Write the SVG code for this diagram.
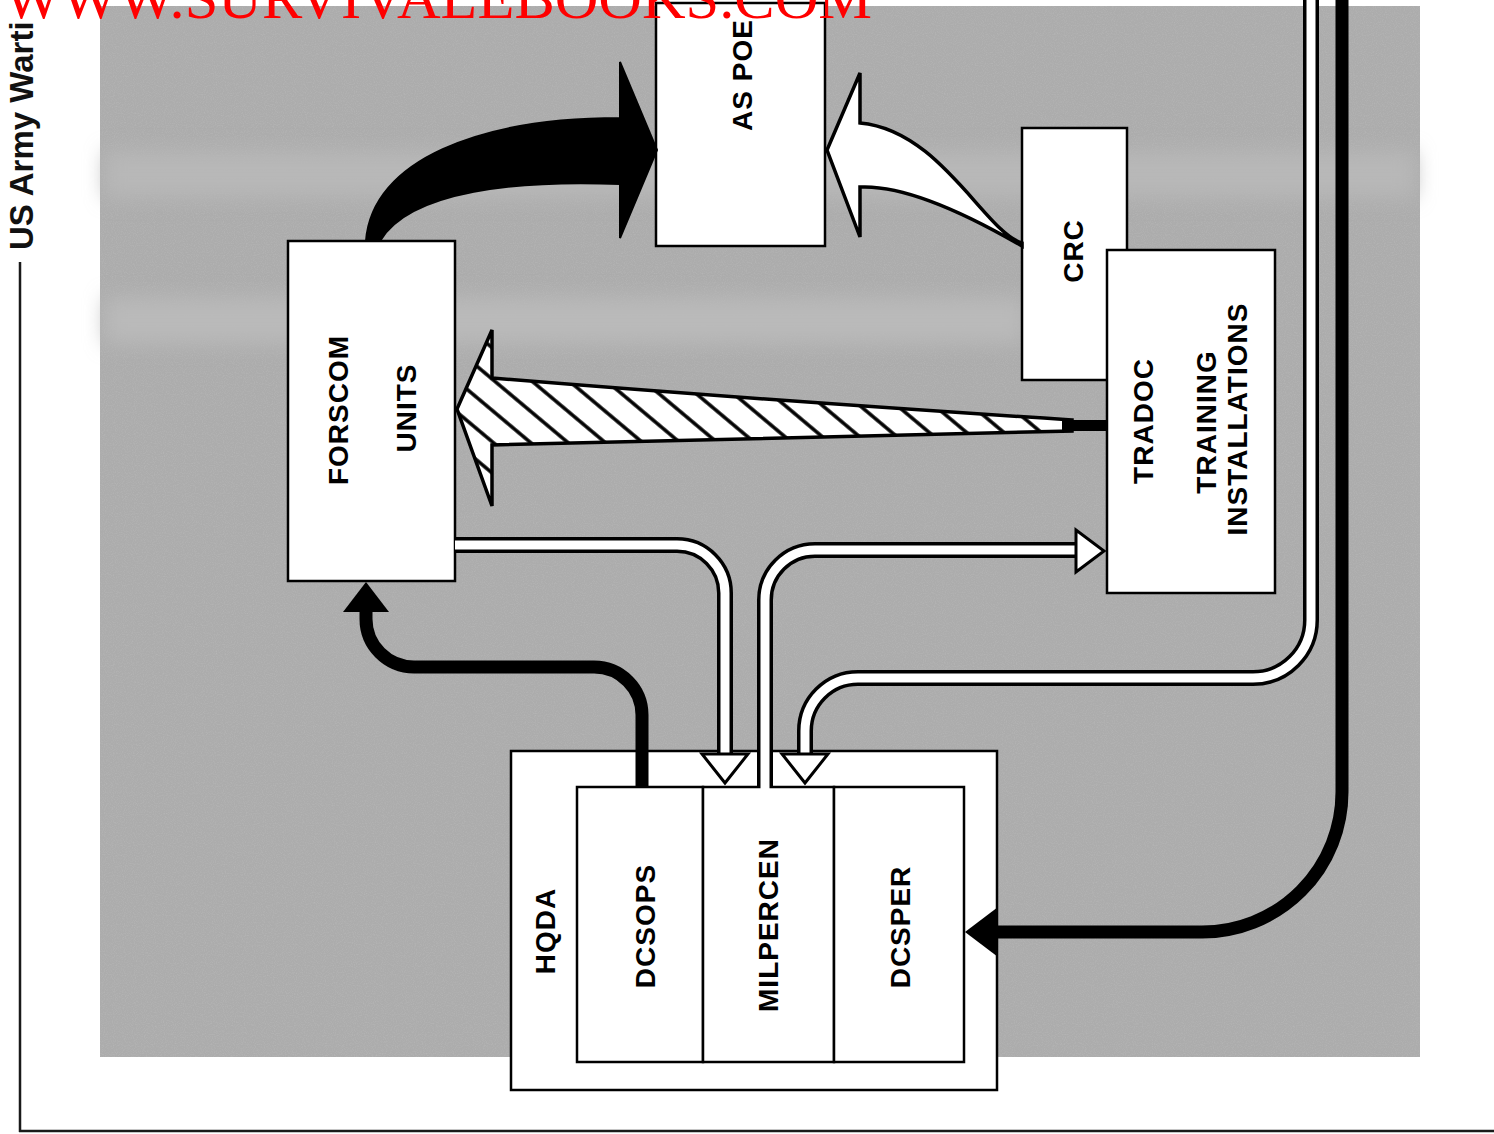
<svg xmlns="http://www.w3.org/2000/svg" width="1494" height="1134" viewBox="0 0 1494 1134">
<style>
.box{fill:#fff;stroke:#000;stroke-width:2.5}
.lbl{font-family:"Liberation Sans",Arial,sans-serif;font-weight:bold;font-size:28px;letter-spacing:1px;fill:#000;text-anchor:middle}
.dblO{fill:none;stroke:#000;stroke-width:16}
.dblI{fill:none;stroke:#fff;stroke-width:9}
.thick{fill:none;stroke:#000;stroke-width:13}
.whead{fill:#fff;stroke:#000;stroke-width:3;stroke-linejoin:miter}
</style>
<defs>
<pattern id="hatch" patternUnits="userSpaceOnUse" width="24" height="24" patternTransform="rotate(-50)">
<rect width="24" height="24" fill="#fff"/>
<line x1="2" y1="0" x2="2" y2="24" stroke="#000" stroke-width="3.5"/>
</pattern>
<filter id="blur" x="-10%" y="-100%" width="120%" height="300%"><feGaussianBlur stdDeviation="10"/></filter>
<filter id="noise" x="0" y="0" width="100%" height="100%">
<feTurbulence type="fractalNoise" baseFrequency="0.9" numOctaves="2" seed="3" result="n"/>
<feColorMatrix type="matrix" values="0 0 0 0 1  0 0 0 0 1  0 0 0 0 1  0 0 0 0.6 -0.25"/>
</filter>
</defs>
<rect width="1494" height="1134" fill="#fff"/>
<g id="background">
<rect x="100" y="6" width="1320" height="1051" fill="#acacac"/>
<rect x="100" y="6" width="1320" height="1051" filter="url(#noise)" opacity="0.35"/>
<rect x="105" y="152" width="1310" height="45" fill="#b8b8b8" filter="url(#blur)"/>
<rect x="105" y="298" width="920" height="45" fill="#bababa" filter="url(#blur)"/>
</g>
<g id="frame" fill="none" stroke="#1a1a1a" stroke-width="2.5">
<line x1="20" y1="262" x2="20" y2="1132"/>
<line x1="19" y1="1131" x2="1494" y2="1131"/>
</g>
<text x="0" y="0" transform="translate(33,250) rotate(-90)" font-family="'Liberation Sans',Arial,sans-serif" font-weight="bold" font-size="33" fill="#111">US Army Warti</text>

<g id="as-poe"><rect class="box" x="656" y="3" width="169" height="243"/>
<text class="lbl" transform="translate(752,75) rotate(-90)">AS POE</text></g>
<g id="crc"><rect class="box" x="1022" y="128" width="105" height="252"/>
<text class="lbl" transform="translate(1083,251) rotate(-90)">CRC</text></g>
<g id="tradoc"><rect class="box" x="1107" y="250" width="168" height="343"/>
<text class="lbl" transform="translate(1153,421) rotate(-90)">TRADOC</text>
<text class="lbl" transform="translate(1216,422) rotate(-90)">TRAINING</text>
<text class="lbl" transform="translate(1247,419) rotate(-90)">INSTALLATIONS</text></g>
<g id="forscom"><rect class="box" x="288" y="241" width="167" height="340"/>
<text class="lbl" transform="translate(348,410) rotate(-90)">FORSCOM</text>
<text class="lbl" transform="translate(416,408) rotate(-90)">UNITS</text></g>
<g id="hqda"><rect class="box" x="511" y="751" width="486" height="339"/>
<text class="lbl" transform="translate(555,931) rotate(-90)">HQDA</text>
<g id="dcsops"><rect class="box" x="577" y="787" width="126" height="275"/>
<text class="lbl" transform="translate(655,926) rotate(-90)">DCSOPS</text></g>
<g id="milpercen"><rect class="box" x="703" y="787" width="131" height="275"/>
<text class="lbl" transform="translate(778,925) rotate(-90)">MILPERCEN</text></g>
<g id="dcsper"><rect class="box" x="834" y="787" width="130" height="275"/>
<text class="lbl" transform="translate(910,927) rotate(-90)">DCSPER</text></g>
</g>

<g id="connectors">
<!-- FORSCOM -> AS POE (big black curved arrow) -->
<path d="M366 241 C372 160 480 118 620 118 L620 62 L657 150 L620 238 L620 184 C520 180 410 190 380 241 Z" fill="#000" stroke="#000" stroke-width="2" stroke-linejoin="miter"/>
<!-- CRC -> AS POE (white curved arrow) -->
<path d="M1022 243 C985 232 940 130 860 123 L860 73 L827 150 L860 237 L860 187 C900 185 960 210 1022 246 Z" fill="#fff" stroke="#000" stroke-width="3.5" stroke-linejoin="miter"/>
<!-- TRADOC -> FORSCOM (hatched arrow) -->
<path d="M1072 420 Q760 400 492 378 L492 330 L457 409 L492 506 L492 445 Q760 438 1072 431 Z" fill="url(#hatch)" stroke="#000" stroke-width="3.5" stroke-linejoin="miter"/>
<rect x="1062" y="420" width="45" height="11" fill="#000"/>
<!-- FORSCOM -> MILPERCEN (double line) -->
<path class="dblO" d="M455 545 H677 A48 48 0 0 1 725 593 V756"/>
<path class="dblI" d="M455 545 H677 A48 48 0 0 1 725 593 V758"/>
<polygon class="whead" points="702,754 748,754 725,783"/>
<!-- MILPERCEN -> TRADOC (double line) -->
<path class="dblO" d="M765 786 V600 A50 50 0 0 1 815 550 H1078"/>
<path class="dblI" d="M765 790 V600 A50 50 0 0 1 815 550 H1080"/>
<polygon class="whead" points="1076,530 1076,572 1104,551"/>
<!-- far right -> MILPERCEN (double line) -->
<path class="dblO" d="M1311 0 V620 A58 58 0 0 1 1253 678 H858 A53 53 0 0 0 805 731 V756"/>
<path class="dblI" d="M1311 0 V620 A58 58 0 0 1 1253 678 H858 A53 53 0 0 0 805 731 V758"/>
<polygon class="whead" points="782,754 828,754 805,783"/>
<!-- DCSOPS -> FORSCOM (thick black) -->
<path class="thick" d="M642 787 V715 A48 48 0 0 0 594 667 H414 A48 48 0 0 1 366 619 V608"/>
<polygon points="343,612 389,612 366,582" fill="#000"/>
<!-- far right -> DCSPER (thick black) -->
<path class="thick" d="M1342 0 V792 A140 140 0 0 1 1202 932 H994"/>
<polygon points="998,907 998,957 965,932" fill="#000"/>
</g>

<text x="4" y="18" textLength="868" lengthAdjust="spacingAndGlyphs" font-family="'Liberation Serif','Times New Roman',serif" font-size="59" fill="#ff0000">WWW.SURVIVALEBOOKS.COM</text>
</svg>
